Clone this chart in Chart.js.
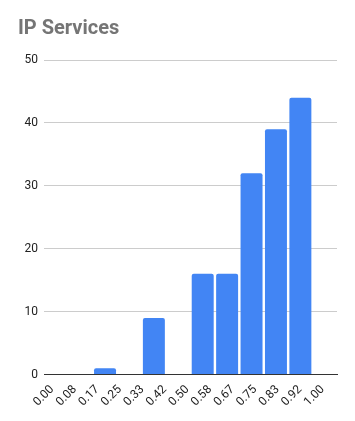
<!DOCTYPE html>
<html><head><meta charset="utf-8">
<script src="https://cdn.jsdelivr.net/npm/chart.js@4"></script>
<style>html,body{margin:0;padding:0;background:#fff}#wrap{width:355px;height:421px}</style>
</head><body><div id="wrap"><canvas id="c" width="355" height="421"></canvas></div>
<script>
const chartTitle = "IP Services";
const binLabels = ["b1","b2","b3","b4","b5","b6","b7","b8","b9","b10","b11","b12"];
const binCounts = [0, 0, 1, 0, 9, 0, 16, 16, 32, 39, 44, 0];
const edgeValues = [0, 1/12, 2/12, 3/12, 4/12, 5/12, 6/12, 7/12, 8/12, 9/12, 10/12, 11/12, 1];
const edgeLabels = ["0.00","0.08","0.17","0.25","0.33","0.42","0.50","0.58","0.67","0.75","0.83","0.92","1.00"];
const yTicks = [0, 10, 20, 30, 40, 50];

new Chart(document.getElementById('c'), {
  type: 'bar',
  data: {
    labels: binLabels,
    datasets: [{
      data: binCounts,
      backgroundColor: '#4285F4',
      borderRadius: {topLeft: 2, topRight: 2},
      borderSkipped: 'bottom',
      barPercentage: 0.9,
      categoryPercentage: 1.0,
      xAxisID: 'xb'
    }]
  },
  options: {
    responsive: false,
    animation: false,
    devicePixelRatio: 1,
    layout: {padding: {left: 18, right: 18, top: 0, bottom: 0}},
    plugins: {
      legend: {display: false},
      tooltip: {enabled: false},
      title: {
        display: true, text: chartTitle, align: 'start',
        color: '#757575',
        font: {family: 'Roboto', size: 20, weight: 'bold'},
        padding: {top: 17, bottom: 19}
      }
    },
    scales: {
      xb: {
        type: 'category', display: false, offset: true
      },
      x: {
        type: 'linear', position: 'bottom', min: 0, max: 1,
        afterBuildTicks: (s) => { s.ticks = edgeValues.map(v => ({value: v})); },
        afterFit: (s) => { s.height = 46.5; },
        ticks: {
          autoSkip: false, maxRotation: 45, minRotation: 45, padding: 8, labelOffset: -3,
          color: '#222', font: {family: 'Roboto', size: 12},
          callback: (v, i) => edgeLabels[i]
        },
        grid: {display: false, drawTicks: false},
        border: {display: true, color: '#333', width: 1}
      },
      y: {
        min: 0, max: 50,
        afterBuildTicks: (s) => { s.ticks = yTicks.map(v => ({value: v})); },
        afterFit: (s) => { s.width = 26; },
        ticks: {color: '#222', font: {family: 'Roboto', size: 12}, padding: 6},
        grid: {color: '#cccccc', drawTicks: false},
        border: {display: false}
      }
    }
  }
});
</script></body></html>
